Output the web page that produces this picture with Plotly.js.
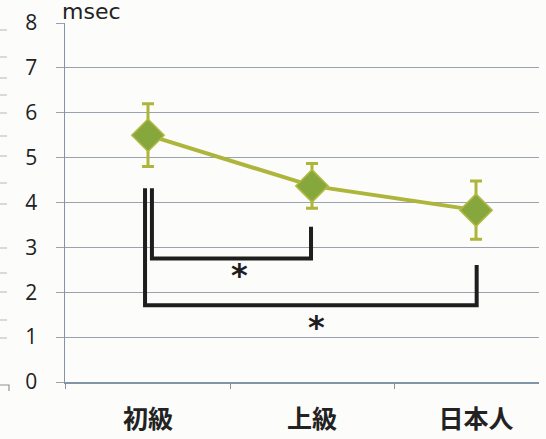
<!DOCTYPE html>
<html>
<head>
<meta charset="utf-8">
<script src="https://cdn.plot.ly/plotly-3.0.1.min.js"></script>
<style>
  html, body { margin: 0; padding: 0; background: #fcfcfb; }
  #chart { width: 546px; height: 439px; }
</style>
</head>
<body>
<div id="chart"></div>
<script>
// Groups and mean durations (msec) with their error ranges
const groups = ['初級', '上級', '日本人'];
const groupPos = [0, 1, 2];
const meanMsec = [5.5, 4.37, 3.83];
const errMsec = [0.7, 0.5, 0.65];

// Significance brackets: [x-left, x-right], [left top, bar level, right top]
const bracketA_x = [0.024, 0.024, 0.994, 0.994];
const bracketA_y = [4.32, 2.75, 2.75, 3.46];
const bracketB_x = [-0.018, -0.018, 2.004, 2.004];
const bracketB_y = [4.32, 1.71, 1.71, 2.61];
const starX = [0.56, 1.03];
const starY = [2.5, 1.34];

const yTicks = [0, 1, 2, 3, 4, 5, 6, 7, 8];

const gridCol = '#9aa2ad';
const axisCol = '#8393a8';
const olive = '#adb53a';
const green = '#86a73c';

const bracketLine = { color: '#1e1e1e', width: 4 };

const traces = [
  {
    x: bracketA_x, y: bracketA_y, type: 'scatter', mode: 'lines',
    line: bracketLine, hoverinfo: 'skip', showlegend: false
  },
  {
    x: bracketB_x, y: bracketB_y, type: 'scatter', mode: 'lines',
    line: bracketLine, hoverinfo: 'skip', showlegend: false
  },
  {
    x: groupPos, y: meanMsec, type: 'scatter', mode: 'lines+markers',
    line: { color: olive, width: 4 },
    marker: { symbol: 'diamond', size: 25, color: green, line: { color: '#b3bb45', width: 1.5 } },
    error_y: { type: 'data', array: errMsec, visible: true, color: olive, thickness: 3, width: 6 },
    showlegend: false
  }
];

// Faint tick marks of the neighbouring figure along the left edge
const edgeMarks = [30, 57, 78, 95, 113, 136, 156, 183, 204, 248, 273, 292, 320, 338];
const shapes = edgeMarks.map(py => ({
  type: 'line', xref: 'paper', yref: 'paper',
  x0: -65 / 474, x1: -58 / 474,
  y0: (382 - py) / 359, y1: (382 - py) / 359,
  line: { color: '#b5b8bc', width: 1 }
}));
shapes.push({
  type: 'path', xref: 'paper', yref: 'paper',
  path: 'M ' + (-65 / 474) + ' ' + (-3 / 359) + ' L ' + (-56 / 474) + ' ' + (-3 / 359) +
        ' L ' + (-56 / 474) + ' ' + (-9 / 359),
  line: { color: '#8e9298', width: 1.2 }
});

const annotations = [
  {
    text: 'msec', xref: 'paper', yref: 'paper', x: 0, y: 1, xanchor: 'left', yanchor: 'top',
    yshift: 25, xshift: -4, showarrow: false, borderpad: 0,
    font: { family: '"DejaVu Sans", sans-serif', size: 22, color: '#222' }
  }
].concat(starX.map((sx, i) => ({
  text: '*', x: sx, y: starY[i], xref: 'x', yref: 'y', showarrow: false,
  font: { family: '"DejaVu Sans", sans-serif', size: 32, color: '#1e1e1e', weight: 'bold' },
  yshift: -5
})));

const layout = {
  width: 546, height: 439,
  margin: { l: 65, r: 7, t: 23, b: 57 },
  paper_bgcolor: '#fcfcfb', plot_bgcolor: '#fcfcfb',
  showlegend: false,
  xaxis: {
    range: [-0.506, 2.384],
    tickmode: 'array', tickvals: groupPos, ticktext: groups,
    ticks: '', showgrid: false, zeroline: false,
    showline: true, linecolor: axisCol, linewidth: 1.5,
    ticklabelstandoff: 14,
    tickfont: { family: '"Noto Sans CJK JP", sans-serif', size: 25, color: '#222', weight: 'bold' },
    minor: { tickmode: 'array', tickvals: [-0.5, 0.5, 1.5], ticks: 'outside', ticklen: 5, tickcolor: axisCol, tickwidth: 1, showgrid: false }
  },
  yaxis: {
    range: [0, 8], tickmode: 'array', tickvals: yTicks,
    showgrid: true, gridcolor: gridCol, gridwidth: 1,
    zeroline: false, showline: true, linecolor: axisCol, linewidth: 1.5,
    ticks: 'outside', ticklen: 8, tickcolor: gridCol, tickwidth: 1,
    ticklabelstandoff: 14,
    tickfont: { family: '"Open Sans", sans-serif', size: 21, color: '#222' }
  },
  shapes: shapes,
  annotations: annotations
};

Plotly.newPlot('chart', traces, layout, { displayModeBar: false, staticPlot: true });
</script>
</body>
</html>
